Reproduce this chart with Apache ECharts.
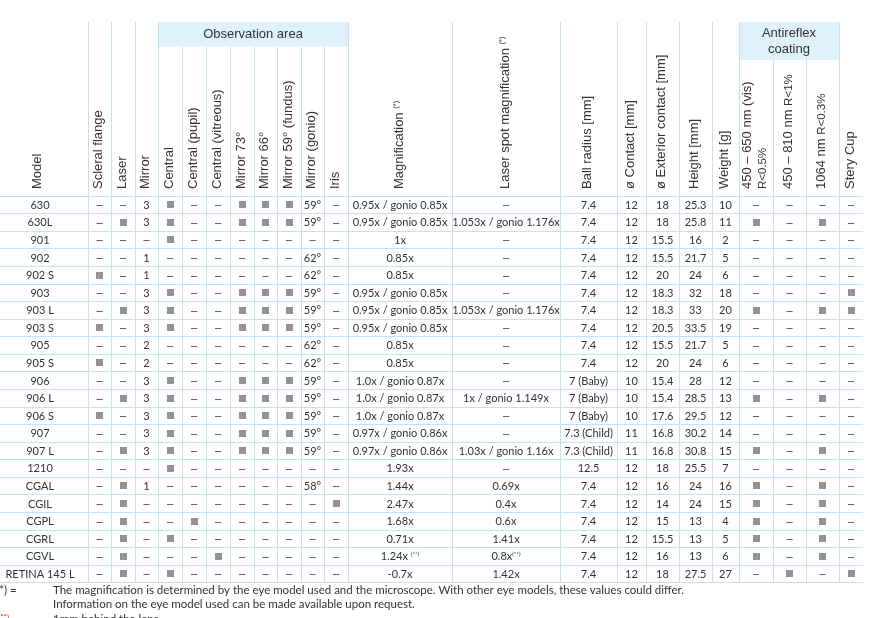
<!DOCTYPE html>
<html><head><meta charset="utf-8">
<script src="https://cdn.jsdelivr.net/npm/echarts@6/dist/echarts.min.js"></script>
<style>html,body{margin:0;padding:0;background:#fff}#c{width:870px;height:618px}</style>
</head><body><div id="c"></div>
<script>
// ---------- DATA ----------
const models = ['630','630L','901','902','902 S','903','903 L','903 S','905','905 S','906','906 L','906 S','907','907 L','1210','CGAL','CGIL','CGPL','CGRL','CGVL','RETINA 145 L'];
const scleralFlange   = [0,0,0,0,1,0,0,1,0,1,0,0,1,0,0,0,0,0,0,0,0,0];
const laser           = [0,1,0,0,0,0,1,0,0,0,0,1,0,0,1,0,1,1,1,1,1,1];
const mirror          = [3,3,null,1,1,3,3,3,2,2,3,3,3,3,3,null,1,null,null,null,null,null];
const central         = [1,1,1,0,0,1,1,1,0,0,1,1,1,1,1,1,0,0,0,1,0,1];
const centralPupil    = [0,0,0,0,0,0,0,0,0,0,0,0,0,0,0,0,0,0,1,0,0,0];
const centralVitreous = [0,0,0,0,0,0,0,0,0,0,0,0,0,0,0,0,0,0,0,0,1,0];
const mirror73        = [1,1,0,0,0,1,1,1,0,0,1,1,1,1,1,0,0,0,0,0,0,0];
const mirror66        = [1,1,0,0,0,1,1,1,0,0,1,1,1,1,1,0,0,0,0,0,0,0];
const mirror59        = [1,1,0,0,0,1,1,1,0,0,1,1,1,1,1,0,0,0,0,0,0,0];
const mirrorGonio     = ['59°','59°',null,'62°','62°','59°','59°','59°','62°','62°','59°','59°','59°','59°','59°',null,'58°',null,null,null,null,null];
const iris            = [0,0,0,0,0,0,0,0,0,0,0,0,0,0,0,0,0,1,0,0,0,0];
const magnification   = ['0.95x / gonio 0.85x','0.95x / gonio 0.85x','1x','0.85x','0.85x','0.95x / gonio 0.85x','0.95x / gonio 0.85x','0.95x / gonio 0.85x','0.85x','0.85x','1.0x / gonio 0.87x','1.0x / gonio 0.87x','1.0x / gonio 0.87x','0.97x / gonio 0.86x','0.97x / gonio 0.86x','1.93x','1.44x','2.47x','1.68x','0.71x','1.24x (**)','-0.7x'];
const laserSpot       = [null,'1.053x / gonio 1.176x',null,null,null,null,'1.053x / gonio 1.176x',null,null,null,null,'1x / gonio 1.149x',null,null,'1.03x / gonio 1.16x',null,'0.69x','0.4x','0.6x','1.41x','0.8x(**)','1.42x'];
const ballRadius      = ['7.4','7.4','7.4','7.4','7.4','7.4','7.4','7.4','7.4','7.4','7 (Baby)','7 (Baby)','7 (Baby)','7.3 (Child)','7.3 (Child)','12.5','7.4','7.4','7.4','7.4','7.4','7.4'];
const contact         = [12,12,12,12,12,12,12,12,12,12,10,10,10,11,11,12,12,12,12,12,12,12];
const exteriorContact = [18,18,15.5,15.5,20,18.3,18.3,20.5,15.5,20,15.4,15.4,17.6,16.8,16.8,18,16,14,15,15.5,16,18];
const heightMm        = [25.3,25.8,16,21.7,24,32,33,33.5,21.7,24,28,28.5,29.5,30.2,30.8,25.5,24,24,13,13,13,27.5];
const weightG         = [10,11,2,5,6,18,20,19,5,6,12,13,12,14,15,7,16,15,4,5,6,27];
const ar450650        = [0,1,0,0,0,0,1,0,0,0,0,1,0,0,1,0,1,1,1,1,1,0];
const ar450810        = [0,0,0,0,0,0,0,0,0,0,0,0,0,0,0,0,0,0,0,0,0,1];
const ar1064          = [0,1,0,0,0,0,1,0,0,0,0,1,0,0,1,0,1,1,1,1,1,0];
const steryCup        = [0,0,0,0,0,1,1,0,0,0,0,0,0,0,0,0,0,0,0,0,0,1];

const columnHeaders = ['Model','Scleral flange','Laser','Mirror','Central','Central (pupil)','Central (vitreous)','Mirror 73°','Mirror 66°','Mirror 59° (fundus)','Mirror (gonio)','Iris','Magnification {sup|(*)}','Laser spot magnification {sup|(*)}','Ball radius [mm]','ø Contact [mm]','ø Exterior contact [mm]','Height [mm]','Weight [g]','450 – 650 nm (vis)\n{sm|R<0.5%}','450 – 810 nm {sm|R<1%}','1064 nm {sm|R<0.3%}','Stery Cup'];
const groupHeaders = ['Observation area','Antireflex\ncoating'];
const groupSpans = [[4,11],[19,21]];
const footnotes = ['(*) =','The magnification is determined by the eye model used and the microscope. With other eye models, these values could differ.','Information on the eye model used can be made available upon request.','(**)','1mm behind the lens'];

const columnValues = [models,scleralFlange,laser,mirror,central,centralPupil,centralVitreous,mirror73,mirror66,mirror59,mirrorGonio,iris,magnification,laserSpot,ballRadius,contact,exteriorContact,heightMm,weightG,ar450650,ar450810,ar1064,steryCup];
const columnKinds = ['text','flag','flag','text','flag','flag','flag','flag','flag','flag','text','flag','text','text','text','text','text','text','text','flag','flag','flag','flag'];

// ---------- LAYOUT ----------
const colEdges = [0,88,111,135,158,182,206,230,254,277,301,324,348,452,560,617,646,679,712,739,773,806,839,863];
const groupBottoms = [46.7, 60];
const LINE = '#bfe5f5', BAND = '#dff2fb', TXT = '#333333', SQ = '#939393';
const cellFont = 'Lato', headFont = 'Liberation Sans, Arial, sans-serif';

const cellData = [];
for (let c = 0; c < columnValues.length; c++)
  for (let r = 0; r < models.length; r++) cellData.push([c, r]);
const colData = columnHeaders.map((_, i) => [i, 0]);
const groupData = groupHeaders.map((_, i) => [i, 0]);

function colX(api, c, r) { return api.coord([colEdges[c], r])[0]; }

function renderCell(params, api) {
  const c = api.value(0), r = api.value(1);
  const x0 = colX(api, c, r), x1 = colX(api, c + 1, r);
  const y = api.coord([0, r])[1];
  const cx = c === 0 ? x0 + 40 : (x0 + x1) / 2;
  const v = columnValues[c][r];
  if (columnKinds[c] === 'flag' && v === 1) {
    return { type: 'rect', shape: { x: Math.round(cx - 3.5), y: Math.round(y - 3.5), width: 7, height: 7 }, style: { fill: SQ } };
  }
  const isDash = (v === null || v === undefined || (columnKinds[c] === 'flag' && v === 0));
  let t = isDash ? '–' : String(v);
  t = t.replace('(**)', '{sup|(**)}');
  return { type: 'text', x: cx, y: y + 0.5, style: {
    text: t, fill: TXT, fontSize: 11, fontFamily: isDash ? 'Liberation Sans' : cellFont, align: 'center', verticalAlign: 'middle',
    rich: { sup: { fontSize: 6, fontFamily: cellFont, fill: TXT, verticalAlign: 'top', padding: [0,0,6,0] } } } };
}

function renderCol(params, api) {
  const c = api.value(0);
  const cs = params.coordSys;
  const x0 = colX(api, c, 0), x1 = colX(api, c + 1, 0);
  let cx = (x0 + x1) / 2 - 1;
  if (c === 0) cx = 37;
  const children = [];
  if (c > 0) {
    let top = cs.y - 174;
    groupSpans.forEach((s, g) => { if (c > s[0] && c <= s[1]) top = groupBottoms[g]; });
    children.push({ type: 'line', shape: { x1: Math.round(x0) + 0.5, y1: top, x2: Math.round(x0) + 0.5, y2: cs.y + cs.height }, style: { stroke: LINE, lineWidth: 1 } });
  }
  children.push({ type: 'text', x: cx, y: cs.y - 7, rotation: Math.PI / 2, style: {
    text: columnHeaders[c], fill: TXT, fontSize: 13, fontFamily: headFont, align: 'left', verticalAlign: 'middle', lineHeight: 15,
    rich: { sup: { fontSize: 7.5, fontFamily: headFont, fill: TXT, verticalAlign: 'top', padding: [0,0,7,0] },
            sm: { fontSize: 11.5, fontFamily: headFont, fill: TXT, lineHeight: 15 } } } });
  return { type: 'group', children };
}

function renderGroup(params, api) {
  const g = api.value(0);
  const cs = params.coordSys;
  const s = groupSpans[g];
  const x0 = colX(api, s[0], 0), x1 = colX(api, s[1] + 1, 0);
  const top = cs.y - 174;
  return { type: 'group', children: [
    { type: 'rect', shape: { x: x0, y: top, width: x1 - x0, height: groupBottoms[g] - top }, style: { fill: BAND } },
    { type: 'text', x: (x0 + x1) / 2, y: (top + groupBottoms[g]) / 2 + 0.5, style: {
      text: groupHeaders[g], fill: TXT, fontSize: 13, fontFamily: headFont, align: 'center', verticalAlign: 'middle', lineHeight: 16 } }
  ] };
}

const chart = echarts.init(document.getElementById('c'), null, { renderer: 'canvas' });
chart.setOption({
  animation: false,
  grid: { left: 0, top: 196, width: 863, height: 386.6 },
  xAxis: { type: 'value', min: 0, max: 863, show: false },
  yAxis: { type: 'category', data: models, inverse: true, boundaryGap: true,
    axisLine: { show: false }, axisTick: { show: false }, axisLabel: { show: false },
    splitLine: { show: true, lineStyle: { color: LINE, width: 1 } } },
  series: [
    { type: 'custom', z: 1, data: groupData, renderItem: renderGroup, silent: true },
    { type: 'custom', z: 2, data: colData, renderItem: renderCol, silent: true },
    { type: 'custom', z: 3, data: cellData, renderItem: renderCell, silent: true }
  ],
  graphic: [
    { type: 'text', left: -4, top: 584, style: { text: footnotes[0], fill: TXT, fontSize: 11.5, fontFamily: cellFont } },
    { type: 'text', left: 53, top: 584, style: { text: footnotes[1], fill: TXT, fontSize: 11.5, fontFamily: cellFont } },
    { type: 'text', left: 53, top: 598, style: { text: footnotes[2], fill: TXT, fontSize: 11.5, fontFamily: cellFont } },
    { type: 'text', left: -2, top: 613, style: { text: footnotes[3], fill: '#c0392b', fontSize: 8, fontFamily: cellFont } },
    { type: 'text', left: 53, top: 613, style: { text: footnotes[4], fill: TXT, fontSize: 11.5, fontFamily: cellFont } }
  ]
});
</script></body></html>
